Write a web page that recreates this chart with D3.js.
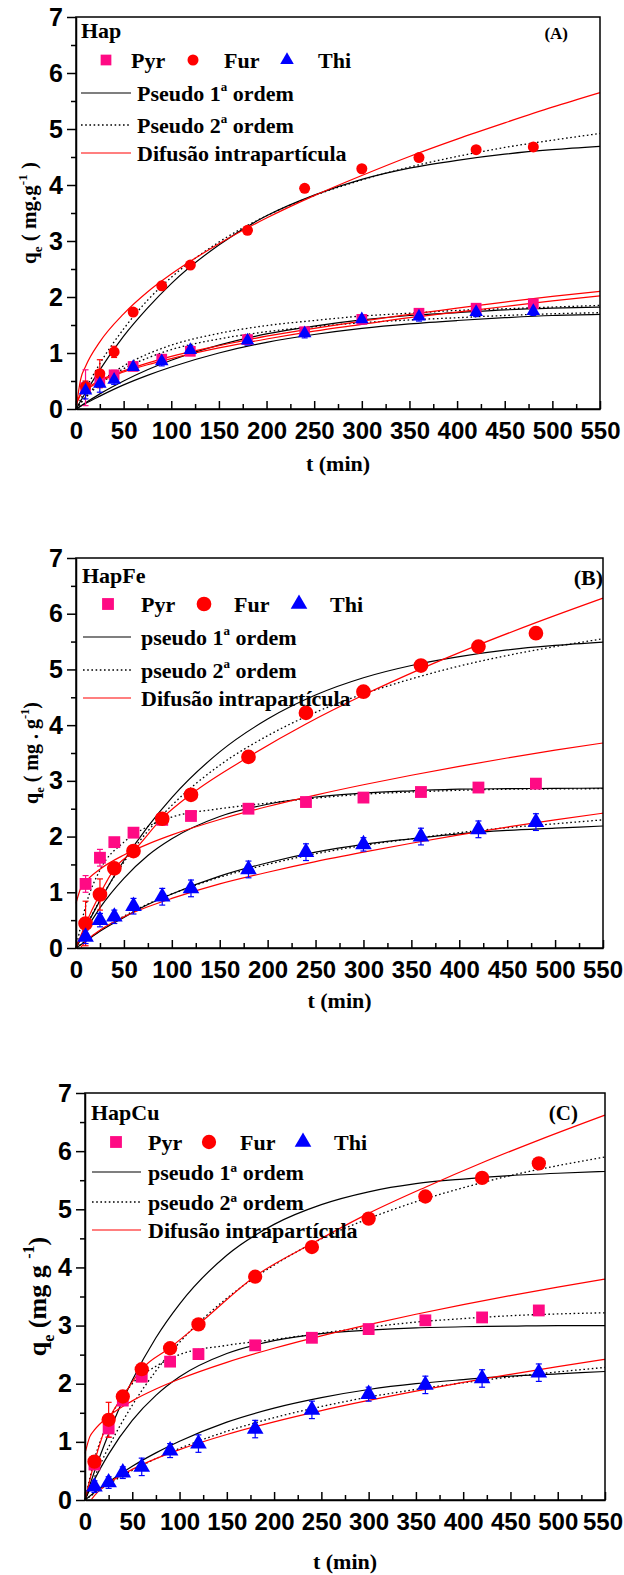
<!DOCTYPE html>
<html><head><meta charset="utf-8">
<script src="https://cdn.jsdelivr.net/npm/d3@7"></script>
<style>body{margin:0;background:#fff}svg{display:block}</style>
</head><body>
<svg id="c" width="624" height="1575"></svg>
<script>
// ---------- data ----------
const T = [10,25,40,60,90,120,180,240,300,360,420,480];
const TF = [0,10,25,50,75,100,150,200,250,300,350,400,450,500,550];
const TD = [0,5,10,25,50,75,100,150,200,250,300,350,400,450,500,550];
const TFUR = [0,10,25,40,60,90,120,180,240,300,360,420,480,550];
const TD5 = [5,10,25,50,75,100,150,200,250,300,350,400,450,500,550];
const TD7 = [7,10,25,50,75,100,150,200,250,300,350,400,450,500,550];
const xTicks = [0,50,100,150,200,250,300,350,400,450,500,550];
const xMinor = [25,75,125,175,225,275,325,375,425,475,525];
const yTicks = [0,1,2,3,4,5,6,7];
const yMinor = [0.5,1.5,2.5,3.5,4.5,5.5,6.5];

// Panel A (Hap)
const A_pyr = [0.38,0.5,0.61,0.76,0.89,1.03,1.24,1.38,1.6,1.71,1.8,1.88];
const A_fur = [0.4,0.63,1.02,1.73,2.2,2.57,3.19,3.94,4.29,4.49,4.63,4.68];
const A_thi = [0.33,0.45,0.52,0.75,0.85,1.05,1.22,1.35,1.6,1.65,1.73,1.75];
const A_pyr_err = [0.32,0.1,0.08,0.06,0.06,0.06,0.08,0.06,0.06,0.06,0.06,0.06];
const A_fur_err = [0.1,0.25,0.1,0.06,0.06,0.06,0.06,0.06,0.06,0.05,0.05,0.05];
const A_thi_err = [0.15,0.15,0.08,0.06,0.08,0.08,0.08,0.08,0.08,0.08,0.08,0.08];
const A_fur_pfo = [0,0.29,0.70,1.30,1.80,2.24,2.93,3.45,3.82,4.10,4.30,4.44,4.55,4.63,4.69];
const A_fur_pso = [0,0.35,0.81,1.43,1.94,2.35,2.98,3.45,3.81,4.09,4.32,4.51,4.67,4.80,4.92];
const A_fur_dif = [0,0.54,0.76,1.2,1.70,2.09,2.41,2.95,3.41,3.81,4.17,4.51,4.82,5.11,5.39,5.65];
const A_pyr_pfo = [0,0.11,0.27,0.50,0.70,0.87,1.14,1.34,1.48,1.59,1.67,1.72,1.77,1.80,1.82];
const A_pyr_pso = [0,0.22,0.47,0.77,0.98,1.14,1.35,1.49,1.58,1.66,1.71,1.76,1.79,1.82,1.85];
const A_pyr_dif = [0.07,0.27,0.35,0.51,0.68,0.82,0.94,1.13,1.30,1.44,1.57,1.69,1.80,1.91,2.01,2.10];
const A_thi_pfo = [0,0.10,0.23,0.43,0.60,0.75,1.00,1.19,1.33,1.44,1.52,1.58,1.63,1.67,1.69];
const A_thi_pso = [0,0.20,0.44,0.72,0.91,1.06,1.25,1.38,1.47,1.54,1.59,1.63,1.67,1.70,1.72];
const A_thi_dif = [0.07,0.26,0.33,0.49,0.66,0.79,0.90,1.09,1.25,1.39,1.51,1.63,1.73,1.83,1.93,2.02];

// Panel B (HapFe)
const B_pyr = [1.15,1.62,1.9,2.07,2.3,2.37,2.5,2.62,2.7,2.8,2.88,2.95];
const B_fur = [0.44,0.96,1.43,1.74,2.32,2.75,3.43,4.22,4.6,5.07,5.41,5.65];
const B_thi = [0.2,0.5,0.56,0.75,0.92,1.07,1.41,1.72,1.86,2.0,2.13,2.26];
const B_pyr_err = [0.15,0.15,0.06,0.06,0.08,0.06,0.06,0.06,0.06,0.06,0.06,0.06];
const B_fur_err = [0.4,0.28,0.08,0.06,0.06,0.06,0.06,0.06,0.06,0.06,0.06,0.06];
const B_thi_err = [0.12,0.12,0.12,0.14,0.15,0.15,0.15,0.15,0.12,0.15,0.15,0.15];
const B_fur_pfo = [0,0.36,0.85,1.57,2.18,2.70,3.52,4.11,4.54,4.85,5.07,5.23,5.35,5.43,5.49];
const B_fur_pso = [0,0.37,0.86,1.54,2.10,2.56,3.28,3.81,4.23,4.56,4.83,5.06,5.25,5.41,5.55];
const B_fur_dif = [0,0.43,0.97,1.42,1.74,2.33,2.76,3.43,4.02,4.54,5.01,5.44,5.84,6.28];
const B_pyr_pfo = [0,0.31,0.72,1.25,1.66,1.96,2.36,2.58,2.71,2.78,2.82,2.85,2.86,2.865,2.87];
const B_pyr_pso = [0,0.75,1.4,1.9,2.18,2.35,2.5,2.6,2.69,2.76,2.8,2.83,2.85,2.855,2.86];
const B_pyr_dif = [0.8,1.075,1.19,1.415,1.67,1.865,2.03,2.306,2.54,2.745,2.93,3.10,3.26,3.41,3.55,3.68];
const B_thi_pfo = [0,0.12,0.30,0.55,0.78,0.97,1.29,1.53,1.72,1.86,1.96,2.05,2.11,2.15,2.19];
const B_thi_pso = [0,0.13,0.31,0.57,0.79,0.97,1.27,1.50,1.69,1.84,1.96,2.07,2.16,2.23,2.30];
const B_thi_dif = [0.01,0.115,0.32,0.56,0.74,0.89,1.15,1.36,1.55,1.72,1.88,2.03,2.17,2.30,2.42];

// Panel C (HapCu)
const C_pyr = [0.61,1.23,1.71,2.12,2.38,2.51,2.66,2.79,2.94,3.09,3.14,3.26];
const C_fur = [0.66,1.38,1.78,2.25,2.61,3.02,3.84,4.35,4.84,5.22,5.54,5.79];
const C_thi = [0.23,0.3,0.47,0.57,0.85,0.97,1.22,1.55,1.82,1.98,2.09,2.19];
const C_pyr_err = [0.08,0.15,0.08,0.06,0.06,0.06,0.06,0.06,0.06,0.06,0.06,0.06];
const C_fur_err = [0.1,0.3,0.08,0.06,0.06,0.06,0.06,0.06,0.06,0.06,0.06,0.06];
const C_thi_err = [0.1,0.1,0.1,0.15,0.12,0.15,0.15,0.15,0.12,0.15,0.15,0.15];
const C_fur_pfo = [0,0.49,1.14,2.06,2.79,3.37,4.21,4.74,5.08,5.30,5.44,5.52,5.58,5.62,5.65];
const C_fur_pso = [0,0.39,0.91,1.63,2.22,2.71,3.47,4.04,4.49,4.84,5.13,5.37,5.58,5.75,5.90];
const C_fur_dif = [0,0.65,1.38,1.78,2.25,2.62,3.02,3.85,4.41,4.93,5.38,5.80,6.19,6.62];
const C_pyr_pfo = [0,0.35,0.79,1.37,1.80,2.12,2.52,2.74,2.86,2.92,2.96,2.98,2.99,3.0,3.0];
const C_pyr_pso = [0,0.7,1.35,2.0,2.3,2.5,2.66,2.76,2.87,2.97,3.06,3.12,3.17,3.2,3.22];
const C_pyr_dif = [0.8,1.086,1.205,1.44,1.705,1.908,2.08,2.368,2.61,2.824,3.017,3.195,3.36,3.515,3.662,3.80];
const C_thi_pfo = [0,0.13,0.31,0.58,0.81,1.01,1.34,1.58,1.76,1.90,2.0,2.07,2.13,2.17,2.21];
const C_thi_pso = [0,0.115,0.274,0.508,0.711,0.887,1.181,1.416,1.608,1.77,1.901,2.016,2.116,2.203,2.28];
const C_thi_dif = [0.016,0.076,0.288,0.527,0.711,0.866,1.126,1.345,1.538,1.712,1.873,2.022,2.162,2.295,2.42];

// ---------- drawing ----------
const PINK = '#ff0a84', RED = '#ff0000', BLUE = '#0000ff';
const SERIF = "'Liberation Serif','Times New Roman',serif";
const SANS = "'Liberation Sans',Arial,sans-serif";
const svg = d3.select('#c');

const panels = [
 {x0:76,x1:600,y0:409,y1:17, name:'Hap', nameX:81, nameY:38, tag:'(A)', tagX:568, tagY:39, tagSize:17,
  rows:[60,93,125,153], mk:[106,193,287], mkTx:[131,224,318], lineX:[81,131], txX:137, ms:[115,95,80],
  leg:['Pseudo 1','Pseudo 2','Difusão intrapartícula'], ordinal:false,
  yt:{x:36, parts:[['q',0],['e',1],[' ( mg.g',0],['-1',2],[' )',0]], size:21}, xtY:471,
  series:[[A_pyr,A_pyr_err,'s',PINK],[A_fur,A_fur_err,'c',RED],[A_thi,A_thi_err,'t',BLUE]],
  curves:[[TF,A_pyr_pfo,'k'],[TF,A_thi_pfo,'k'],[TF,A_fur_pfo,'k'],
          [TF,A_pyr_pso,'d'],[TF,A_thi_pso,'d'],[TF,A_fur_pso,'d'],
          [TD,A_pyr_dif,'r'],[TD,A_thi_dif,'r'],[TD,A_fur_dif,'r']]},
 {x0:76,x1:603,y0:948,y1:558, name:'HapFe', nameX:82, nameY:583, tag:'(B)', tagX:603, tagY:585, tagSize:22,
  rows:[604,637,670,698], mk:[108,204,299], mkTx:[141,234,330], lineX:[83,131], txX:141, ms:[140,170,120],
  leg:['pseudo 1','pseudo 2','Difusão intrapartícula'], ordinal:false,
  yt:{x:38, parts:[['q',0],['e',1],[' ( mg . g',0],['-1',2],[')',0]], size:20}, xtY:1008,
  series:[[B_pyr,B_pyr_err,'s',PINK],[B_fur,B_fur_err,'c',RED],[B_thi,B_thi_err,'t',BLUE]],
  curves:[[TF,B_pyr_pfo,'k'],[TF,B_thi_pfo,'k'],[TF,B_fur_pfo,'k'],
          [TF,B_pyr_pso,'d'],[TF,B_thi_pso,'d'],[TF,B_fur_pso,'d'],
          [TD,B_pyr_dif,'r'],[TD5,B_thi_dif,'r'],[TFUR,B_fur_dif,'r']]},
 {x0:85,x1:605,y0:1500,y1:1093, name:'HapCu', nameX:91, nameY:1120, tag:'(C)', tagX:578, tagY:1120, tagSize:21,
  rows:[1142,1172,1202,1230], mk:[116,209,303], mkTx:[148,240,334], lineX:[92,141], txX:148, ms:[140,160,120],
  leg:['pseudo 1ª ordem','pseudo 2ª ordem','Difusão intrapartícula'], ordinal:true,
  yt:{x:46, parts:[['q',0],['e',1],[' (mg g ',0],['-1',2],[')',0]], size:26}, xtY:1569,
  series:[[C_pyr,C_pyr_err,'s',PINK],[C_fur,C_fur_err,'c',RED],[C_thi,C_thi_err,'t',BLUE]],
  curves:[[TF,C_pyr_pfo,'k'],[TF,C_thi_pfo,'k'],[TF,C_fur_pfo,'k'],
          [TF,C_pyr_pso,'d'],[TF,C_thi_pso,'d'],[TF,C_fur_pso,'d'],
          [TD,C_pyr_dif,'r'],[TD7,C_thi_dif,'r'],[TFUR,C_fur_dif,'r']]}
];

const symType = {s:d3.symbolSquare, c:d3.symbolCircle, t:d3.symbolTriangle};
function styleCurve(sel, kind){
  if(kind==='k') sel.attr('stroke','#000').attr('stroke-width',1.2);
  else if(kind==='d') sel.attr('stroke','#000').attr('stroke-width',1.3).attr('stroke-dasharray','1.6,2.6');
  else sel.attr('stroke',RED).attr('stroke-width',1.2);
  sel.attr('fill','none');
}

panels.forEach(p=>{
  const g = svg.append('g');
  const x = d3.scaleLinear().domain([0,550]).range([p.x0,p.x1]);
  const y = d3.scaleLinear().domain([0,7]).range([p.y0,p.y1]);
  const line = d3.line().x(d=>x(d[0])).y(d=>y(d[1])).curve(d3.curveMonotoneX);

  p.curves.forEach(([tt,vv,kind])=>{
    g.append('path').datum(d3.zip(tt,vv)).attr('d',line).call(styleCurve,kind);
  });

  // error bars
  p.series.forEach(([vals,err,type,col],si)=>{
    const eg = g.append('g').attr('stroke',col).attr('stroke-width',1.2);
    T.forEach((t,i)=>{
      const cx = x(t);
      eg.append('line').attr('x1',cx).attr('x2',cx).attr('y1',y(vals[i]-err[i])).attr('y2',y(vals[i]+err[i]));
      eg.append('line').attr('x1',cx-3).attr('x2',cx+3).attr('y1',y(vals[i]+err[i])).attr('y2',y(vals[i]+err[i]));
      eg.append('line').attr('x1',cx-3).attr('x2',cx+3).attr('y1',y(vals[i]-err[i])).attr('y2',y(vals[i]-err[i]));
    });
  });
  // markers
  p.series.forEach(([vals,err,type,col],si)=>{
    const sym = d3.symbol().type(symType[type]).size(p.ms[si]);
    g.append('g').selectAll('path').data(T.map((t,i)=>[t,vals[i]])).join('path')
      .attr('d',sym).attr('transform',d=>`translate(${x(d[0])},${y(d[1])})`).attr('fill',col);
  });

  // frame
  g.append('rect').attr('x',p.x0).attr('y',p.y1).attr('width',p.x1-p.x0).attr('height',p.y0-p.y1)
    .attr('fill','none').attr('stroke','#000').attr('stroke-width',1.5);

  // axes
  const fmt = d3.format('d');
  const ax = g.append('g').attr('transform',`translate(${p.x0},0)`)
    .call(d3.axisLeft(y).tickValues(yTicks).tickSize(9).tickSizeOuter(0).tickPadding(4).tickFormat(fmt));
  const axm = g.append('g').attr('transform',`translate(${p.x0},0)`)
    .call(d3.axisLeft(y).tickValues(yMinor).tickSize(5).tickSizeOuter(0).tickFormat(''));
  const bx = g.append('g').attr('transform',`translate(0,${p.y0})`)
    .call(d3.axisBottom(x).tickValues(xTicks).tickSizeInner(-8).tickSizeOuter(0).tickPadding(13).tickFormat(fmt));
  const bxm = g.append('g').attr('transform',`translate(0,${p.y0})`)
    .call(d3.axisBottom(x).tickValues(xMinor).tickSizeInner(-5).tickSizeOuter(0).tickFormat(''));
  [axm,bxm].forEach(a=>a.select('.domain').remove());
  [ax,axm,bx,bxm].forEach(a=>{
    a.selectAll('path,line').attr('stroke','#000').attr('stroke-width',1.5);
    a.attr('font-family',SANS).attr('font-size',24).attr('font-weight','bold');
    a.selectAll('text').attr('fill','#000');
  });
  ax.attr('font-size',25);
  // keep the last x tick label inside the page
  bx.selectAll('text').each(function(){
    const b = this.getBBox();
    const tr = this.parentNode.getAttribute('transform');
    const tx = +tr.match(/translate\(([-\d.]+)/)[1];
    const over = tx + b.x + b.width - 623;
    if(over > 0) d3.select(this).attr('dx', -over);
  });

  // texts
  const T0 = (sx,sy,txt,size,anchor)=> g.append('text').attr('x',sx).attr('y',sy).text(txt)
      .attr('font-family',SERIF).attr('font-weight','bold').attr('font-size',size)
      .attr('text-anchor',anchor||'start').attr('fill','#000');
  T0(p.nameX,p.nameY,p.name,22);
  T0(p.tagX,p.tagY,p.tag,p.tagSize,'end');

  // legend row 1: markers
  ['Pyr','Fur','Thi'].forEach((lab,i)=>{
    const [vals,err,type,col] = p.series[i];
    g.append('path').attr('d',d3.symbol().type(symType[type]).size(p.ms[i])())
      .attr('transform',`translate(${p.mk[i]},${p.rows[0]})`).attr('fill',col);
    T0(p.mkTx[i],p.rows[0]+7.5,lab,22);
  });
  // legend rows 2..4: lines
  const kinds = ['k','d','r'];
  kinds.forEach((k,i)=>{
    const ry = p.rows[i+1];
    g.append('line').attr('x1',p.lineX[0]).attr('x2',p.lineX[1]).attr('y1',ry).attr('y2',ry).call(styleCurve,k);
    const t = T0(p.txX,ry+7.5,'',22);
    if(i<2 && !p.ordinal){
      t.append('tspan').text(p.leg[i]);
      t.append('tspan').text('a').attr('font-size',13).attr('dy',-10);
      t.append('tspan').text(' ordem').attr('dy',10);
    } else t.text(p.leg[i]);
  });

  // axis titles
  const cy = (p.y0+p.y1)/2;
  const yt = g.append('text').attr('transform',`translate(${p.yt.x},${cy}) rotate(-90)`)
    .attr('text-anchor','middle').attr('font-family',SERIF).attr('font-weight','bold')
    .attr('font-size',p.yt.size).attr('fill','#000');
  let shift = 0;
  p.yt.parts.forEach(([s,kind])=>{
    const ts = yt.append('tspan').text(s);
    let target = kind===1 ? 0.3*p.yt.size : kind===2 ? -0.45*p.yt.size : 0;
    if(kind) ts.attr('font-size',p.yt.size*0.62);
    ts.attr('dy',target-shift); shift = target;
  });
  T0((p.x0+p.x1)/2,p.xtY,'t (min)',22,'middle');
});
</script>
</body></html>
